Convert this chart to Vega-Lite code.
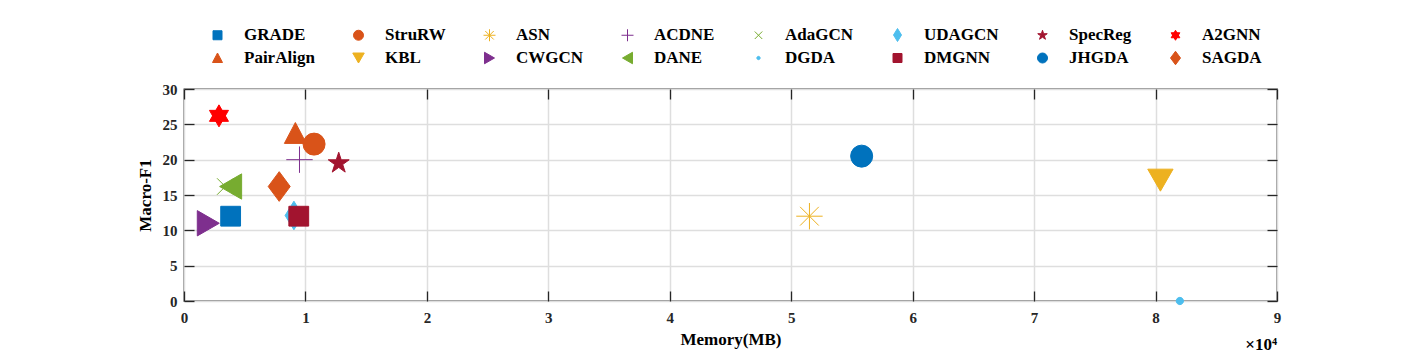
{
  "$schema": "https://vega.github.io/schema/vega-lite/v6.json",
  "width": 1093,
  "height": 212,
  "autosize": {"type": "none"},
  "padding": {"left": 184, "top": 89, "right": 135, "bottom": 52},
  "background": "white",
  "config": {"view": {"stroke": "#262626", "strokeWidth": 1.3}, "font": "Liberation Serif"},
  "resolve": {"axis": {"x": "independent", "y": "independent"}},
  "layer": [
    {
      "data": {"values": [{"label": ""}]},
      "mark": {"type": "text", "font": "Liberation Serif"},
      "encoding": {
        "x": {
          "datum": 0, "type": "quantitative",
          "scale": {"domain": [0, 90000], "nice": false, "zero": false},
          "axis": {"orient": "bottom", "values": [0, 10000, 20000, 30000, 40000, 50000, 60000, 70000, 80000, 90000], "labels": false, "ticks": false, "domain": false, "title": null, "grid": true, "gridColor": "#dedede", "gridWidth": 1.5}
        },
        "y": {
          "datum": 0, "type": "quantitative",
          "scale": {"domain": [0, 30], "nice": false, "zero": false},
          "axis": {"orient": "left", "values": [0, 5, 10, 15, 20, 25, 30], "labels": false, "ticks": false, "domain": false, "title": null, "grid": true, "gridColor": "#dedede", "gridWidth": 1.5}
        },
        "text": {"field": "label"}
      }
    },
    {
      "data": {"values": [
        {"method": "GRADE", "memory": 3840, "f1": 12},
        {"method": "StruRW", "memory": 10710, "f1": 22.2},
        {"method": "ASN", "memory": 51500, "f1": 12},
        {"method": "ACDNE", "memory": 9510, "f1": 20},
        {"method": "AdaGCN", "memory": 3400, "f1": 16.2},
        {"method": "UDAGCN", "memory": 9050, "f1": 12.1},
        {"method": "SpecReg", "memory": 12740, "f1": 19.5},
        {"method": "A2GNN", "memory": 2880, "f1": 26.2},
        {"method": "PairAlign", "memory": 9170, "f1": 23.7},
        {"method": "KBL", "memory": 80400, "f1": 17.1},
        {"method": "CWGCN", "memory": 2000, "f1": 11},
        {"method": "DANE", "memory": 3840, "f1": 16.2},
        {"method": "DGDA", "memory": 82000, "f1": 0},
        {"method": "DMGNN", "memory": 9450, "f1": 12},
        {"method": "JHGDA", "memory": 55800, "f1": 20.5},
        {"method": "SAGDA", "memory": 7840, "f1": 16.2}
      ]},
      "mark": {"type": "point", "filled": true, "size": 484, "strokeWidth": 1, "opacity": 1, "fillOpacity": 1, "strokeOpacity": 1},
      "encoding": {
        "x": {
          "field": "memory", "type": "quantitative",
          "scale": {"domain": [0, 90000], "nice": false, "zero": false},
          "axis": {
            "orient": "bottom", "offset": -10, "values": [0, 10000, 20000, 30000, 40000, 50000, 60000, 70000, 80000, 90000],
            "labelExpr": "datum.value / 10000", "title": "Memory(MB)",
            "grid": false, "domain": false,
            "tickSize": 10, "tickColor": "#262626", "tickWidth": 1.3,
            "labelFont": "Liberation Serif", "labelFontSize": 15, "labelFontWeight": "bold", "labelColor": "#262626",
            "labelPadding": 9, "labelFlush": false, "labelOverlap": false,
            "titleFont": "Liberation Serif", "titleFontSize": 17, "titleFontWeight": "bold", "titleColor": "#000000", "titlePadding": 6
          }
        },
        "y": {
          "field": "f1", "type": "quantitative",
          "scale": {"domain": [0, 30], "nice": false, "zero": false},
          "axis": {
            "orient": "left", "offset": -10, "values": [0, 5, 10, 15, 20, 25, 30], "title": "Macro-F1",
            "grid": false, "domain": false,
            "tickSize": 10, "tickColor": "#262626", "tickWidth": 1.3,
            "labelFont": "Liberation Serif", "labelFontSize": 15, "labelFontWeight": "bold", "labelColor": "#262626",
            "labelPadding": 7, "labelFlush": false, "labelOverlap": false,
            "titleFont": "Liberation Serif", "titleFontSize": 17, "titleFontWeight": "bold", "titleColor": "#000000", "titlePadding": 8
          }
        },
        "shape": {
          "field": "method", "type": "nominal",
          "scale": {
            "domain": ["GRADE", "StruRW", "ASN", "ACDNE", "AdaGCN", "UDAGCN", "SpecReg", "A2GNN", "PairAlign", "KBL", "CWGCN", "DANE", "DGDA", "DMGNN", "JHGDA", "SAGDA"],
            "range": [
              "M-0.9,-0.9L0.9,-0.9L0.9,0.9L-0.9,0.9Z",
              "circle",
              "M-1.2,0L1.2,0M0,-1.2L0,1.2M-0.85,-0.85L0.85,0.85M-0.85,0.85L0.85,-0.85",
              "M-1.2,0L1.2,0M0,-1.2L0,1.2",
              "M-0.75,-0.75L0.75,0.75M-0.75,0.75L0.75,-0.75",
              "M0,-1.3L0.8,0L0,1.3L-0.8,0Z",
              "M0,-1L0.2245,-0.309L0.951,-0.309L0.363,0.118L0.588,0.809L0,0.382L-0.588,0.809L-0.363,0.118L-0.951,-0.309L-0.2245,-0.309Z",
              "M0,-1L0.866,0.5L-0.866,0.5ZM0,1L-0.866,-0.5L0.866,-0.5Z",
              "M0,-1L1,0.9L-1,0.9Z",
              "M0,1L1.15,-1L-1.15,-1Z",
              "M1,0L-1,1.15L-1,-1.15Z",
              "M-1,0L1,1.15L1,-1.15Z",
              "M-0.33,0A0.33,0.33 0 1,0 0.33,0A0.33,0.33 0 1,0 -0.33,0Z",
              "M-0.9,-0.9L0.9,-0.9L0.9,0.9L-0.9,0.9Z",
              "circle",
              "M0,-1.35L1,0L0,1.35L-1,0Z"
            ]
          },
          "legend": {"title": null, "orient": "none", "legendX": 25, "legendY": -62.5, "direction": "horizontal", "columns": 8, "columnPadding": 35, "rowPadding": 5, "symbolSize": 100, "symbolStrokeWidth": 1, "labelFont": "Liberation Serif", "labelFontSize": 17, "labelFontWeight": "bold", "labelColor": "#000000", "labelOffset": 18, "symbolOffset": 0, "padding": 0, "gridAlign": "each", "labelLimit": 0}
        },
        "fill": {
          "field": "method", "type": "nominal",
          "scale": {
            "domain": ["GRADE", "StruRW", "ASN", "ACDNE", "AdaGCN", "UDAGCN", "SpecReg", "A2GNN", "PairAlign", "KBL", "CWGCN", "DANE", "DGDA", "DMGNN", "JHGDA", "SAGDA"],
            "range": ["#0072BD", "#D95319", "#EDB120", "#7E2F8E", "#77AC30", "#4DBEEE", "#A2142F", "#FF0000", "#D95319", "#EDB120", "#7E2F8E", "#77AC30", "#4DBEEE", "#A2142F", "#0072BD", "#D95319"]
          },
          "legend": {"title": null, "orient": "none", "legendX": 25, "legendY": -62.5, "direction": "horizontal", "columns": 8, "columnPadding": 35, "rowPadding": 5, "symbolSize": 100, "symbolStrokeWidth": 1, "labelFont": "Liberation Serif", "labelFontSize": 17, "labelFontWeight": "bold", "labelColor": "#000000", "labelOffset": 18, "symbolOffset": 0, "padding": 0, "gridAlign": "each", "labelLimit": 0}
        },
        "stroke": {
          "field": "method", "type": "nominal",
          "scale": {
            "domain": ["GRADE", "StruRW", "ASN", "ACDNE", "AdaGCN", "UDAGCN", "SpecReg", "A2GNN", "PairAlign", "KBL", "CWGCN", "DANE", "DGDA", "DMGNN", "JHGDA", "SAGDA"],
            "range": ["#0072BD", "#D95319", "#EDB120", "#7E2F8E", "#77AC30", "#4DBEEE", "#A2142F", "#FF0000", "#D95319", "#EDB120", "#7E2F8E", "#77AC30", "#4DBEEE", "#A2142F", "#0072BD", "#D95319"]
          },
          "legend": {"title": null, "orient": "none", "legendX": 25, "legendY": -62.5, "direction": "horizontal", "columns": 8, "columnPadding": 35, "rowPadding": 5, "symbolSize": 100, "symbolStrokeWidth": 1, "labelFont": "Liberation Serif", "labelFontSize": 17, "labelFontWeight": "bold", "labelColor": "#000000", "labelOffset": 18, "symbolOffset": 0, "padding": 0, "gridAlign": "each", "labelLimit": 0}
        }
      }
    },
    {
      "data": {"values": [{"label": "×10⁴"}]},
      "mark": {"type": "text", "align": "right", "baseline": "alphabetic", "dy": 49, "font": "Liberation Serif", "fontSize": 17, "fontWeight": "bold", "color": "#000000"},
      "encoding": {
        "x": {
          "datum": 90000, "type": "quantitative",
          "scale": {"domain": [0, 90000], "nice": false, "zero": false},
          "axis": {"orient": "top", "offset": -10, "values": [0, 10000, 20000, 30000, 40000, 50000, 60000, 70000, 80000, 90000], "labels": false, "grid": false, "domain": false, "title": null, "tickSize": 10, "tickColor": "#262626", "tickWidth": 1.3}
        },
        "y": {
          "datum": 0, "type": "quantitative",
          "scale": {"domain": [0, 30], "nice": false, "zero": false},
          "axis": {"orient": "right", "offset": -10, "values": [0, 5, 10, 15, 20, 25, 30], "labels": false, "grid": false, "domain": false, "title": null, "tickSize": 10, "tickColor": "#262626", "tickWidth": 1.3}
        },
        "text": {"field": "label"}
      }
    }
  ]
}
